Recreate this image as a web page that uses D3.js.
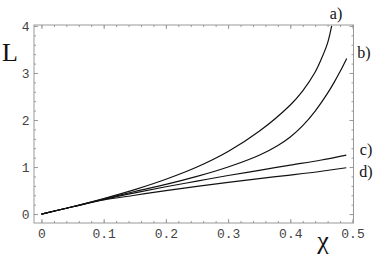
<!DOCTYPE html>
<html><head><meta charset="utf-8">
<script src="https://cdn.jsdelivr.net/npm/d3@7"></script>
<style>body{margin:0;background:#fff}svg{display:block}</style>
</head><body>
<script>
const chi  = [0, 0.05, 0.1, 0.15, 0.2, 0.25, 0.3, 0.35, 0.4, 0.42, 0.44, 0.45, 0.46, 0.4665];
const seriesA = [0, 0.155, 0.33, 0.52, 0.74, 1.0, 1.33, 1.76, 2.32, 2.62, 3.02, 3.30, 3.64, 4.0];
const chiB = [0, 0.05, 0.1, 0.15, 0.2, 0.25, 0.3, 0.35, 0.38, 0.4, 0.42, 0.44, 0.46, 0.47, 0.48, 0.4907];
const seriesB = [0, 0.155, 0.32, 0.48, 0.63, 0.80, 1.0, 1.25, 1.46, 1.64, 1.88, 2.19, 2.57, 2.79, 3.03, 3.31];
const chiCD = [0, 0.05, 0.1, 0.15, 0.2, 0.25, 0.3, 0.35, 0.4, 0.45, 0.49];
const seriesC = [0, 0.155, 0.31, 0.45, 0.58, 0.70, 0.82, 0.93, 1.04, 1.15, 1.255];
const seriesD = [0, 0.155, 0.30, 0.40, 0.50, 0.59, 0.675, 0.755, 0.83, 0.91, 0.985];
const xTicks = [0, 0.1, 0.2, 0.3, 0.4, 0.5];
const yTicks = [0, 1, 2, 3, 4];
const curveLabels = ["a)", "b)", "c)", "d)"];

const W = 374, H = 258;
const svg = d3.select("body").append("svg").attr("width", W).attr("height", H);

const x = d3.scaleLinear().domain([-0.012, 0.5016]).range([34, 353.5]);
const y = d3.scaleLinear().domain([-0.19, 4.02]).range([223, 25]);

const frameCol = "#999";
svg.append("defs").append("clipPath").attr("id", "clip")
  .append("rect").attr("x", 34).attr("y", 25).attr("width", 319.5).attr("height", 198);

// minor ticks
const xMinor = d3.range(0, 0.5001, 0.02);
const yMinor = d3.range(0, 4.001, 0.2);
function styleAxis(g) {
  g.select(".domain").remove();
  g.selectAll(".tick line").attr("stroke", frameCol).attr("stroke-width", 1);
}
svg.append("g").attr("transform", "translate(0,223)")
  .call(d3.axisBottom(x).tickValues(xMinor).tickSize(-2).tickFormat("")).call(styleAxis);
svg.append("g").attr("transform", "translate(0,25)")
  .call(d3.axisTop(x).tickValues(xMinor).tickSize(-2).tickFormat("")).call(styleAxis);
svg.append("g").attr("transform", "translate(34,0)")
  .call(d3.axisLeft(y).tickValues(yMinor).tickSize(-2).tickFormat("")).call(styleAxis);
svg.append("g").attr("transform", "translate(353.5,0)")
  .call(d3.axisRight(y).tickValues(yMinor).tickSize(-2).tickFormat("")).call(styleAxis);

// major ticks
const fmtX = d => d === 0 ? "0" : d3.format(".1f")(d);
const gx = svg.append("g").attr("transform", "translate(0,223)")
  .call(d3.axisBottom(x).tickValues(xTicks).tickSize(-4).tickPadding(6).tickFormat(fmtX)).call(styleAxis);
svg.append("g").attr("transform", "translate(0,25)")
  .call(d3.axisTop(x).tickValues(xTicks).tickSize(-4).tickFormat("")).call(styleAxis);
const gy = svg.append("g").attr("transform", "translate(34,0)")
  .call(d3.axisLeft(y).tickValues(yTicks).tickSize(-4).tickPadding(4.5).tickFormat(d3.format("d"))).call(styleAxis);
svg.append("g").attr("transform", "translate(353.5,0)")
  .call(d3.axisRight(y).tickValues(yTicks).tickSize(-4).tickFormat("")).call(styleAxis);
[gx, gy].forEach(g => g.selectAll("text")
  .attr("font-family", "'Liberation Mono', 'DejaVu Sans Mono', monospace")
  .attr("font-size", 13).attr("fill", "#444"));

// frame
svg.append("rect").attr("x", 34).attr("y", 25).attr("width", 319.5).attr("height", 198)
  .attr("fill", "none").attr("stroke", frameCol).attr("stroke-width", 1);

// curves
const line = d3.line().x(d => x(d[0])).y(d => y(d[1])).curve(d3.curveCatmullRom.alpha(0.5));
const series = [
  d3.zip(chi, seriesA), d3.zip(chiB, seriesB), d3.zip(chiCD, seriesC), d3.zip(chiCD, seriesD)
];
svg.append("g").attr("clip-path", "url(#clip)").selectAll("path").data(series).join("path")
  .attr("d", line).attr("fill", "none").attr("stroke", "#111").attr("stroke-width", 1.2);

// curve labels
const labelPos = [[336, 19], [364, 58], [366, 155], [366, 177]];
svg.selectAll("text.cl").data(curveLabels).join("text").attr("class", "cl")
  .attr("x", (d, i) => labelPos[i][0]).attr("y", (d, i) => labelPos[i][1])
  .attr("text-anchor", "middle")
  .attr("font-family", "'Liberation Serif', 'DejaVu Serif', serif").attr("font-size", 16)
  .attr("fill", "#111").text(d => d);

// axis titles
svg.append("text").attr("x", 2).attr("y", 61)
  .attr("font-family", "'Liberation Serif', serif").attr("font-size", 26).attr("fill", "#111").text("L");
svg.append("text").attr("x", 323).attr("y", 249).attr("text-anchor", "middle")
  .attr("font-family", "'Liberation Serif', serif").attr("font-size", 26).attr("fill", "#111").text("χ");
</script>
</body></html>
